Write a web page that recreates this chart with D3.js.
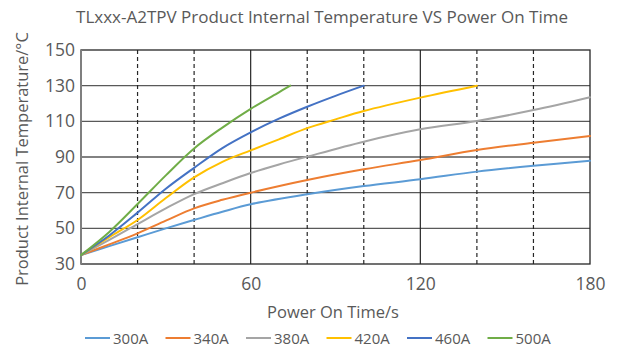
<!DOCTYPE html>
<html>
<head>
<meta charset="utf-8">
<script src="https://cdn.jsdelivr.net/npm/d3@7"></script>
<style>
  html, body { margin: 0; padding: 0; background: #fff; }
  svg { display: block; font-family: "Open Sans", "Noto Sans", sans-serif; }
</style>
</head>
<body>
<svg id="chart" width="625" height="349"></svg>
<script>
// time (s) and temperature (°C), one pair per current
const t300 = [0, 10, 20, 30, 40, 50, 60, 80, 100, 120, 140, 160, 180];
const v300 = [35, 40, 45, 50, 54.7, 59.3, 63.5, 69.1, 73.7, 77.5, 81.8, 85.1, 87.9];
const t340 = [0, 10, 20, 30, 40, 50, 60, 80, 100, 120, 140, 160, 180];
const v340 = [35, 41, 47.2, 54.3, 61.2, 66, 70, 77.1, 83.1, 88.3, 93.9, 98, 101.8];
const t380 = [0, 10, 20, 30, 40, 50, 60, 70, 80, 100, 120, 140, 160, 180];
const v380 = [35, 43.5, 52.4, 61.2, 69.2, 75.3, 81, 85.8, 90.2, 98.6, 105.5, 110.2, 116.3, 123.5];
const t420 = [0, 10, 20, 30, 40, 50, 60, 70, 80, 90, 100, 120, 140];
const v420 = [35, 45, 54.7, 67, 78.6, 87.3, 93.7, 99.9, 106.2, 111.1, 115.8, 123.3, 130];
const t460 = [0, 10, 20, 30, 40, 50, 60, 70, 80, 90, 100];
const v460 = [35, 46, 58.8, 72.2, 83.9, 95, 103.8, 111.5, 118.2, 124.3, 130];
const t500 = [0, 10, 20, 30, 40, 50, 60, 70, 74];
const v500 = [35, 48, 63.6, 79.7, 94.8, 106.5, 117, 126.3, 130];

const seriesNames = ["300A", "340A", "380A", "420A", "460A", "500A"];
const seriesTimes = [t300, t340, t380, t420, t460, t500];
const seriesValues = [v300, v340, v380, v420, v460, v500];
const colors = ["#5B9BD5", "#ED7D31", "#A5A5A5", "#FFC000", "#4472C4", "#70AD47"];

const xTicks = [0, 60, 120, 180];
const xGrid = [20, 40, 60, 80, 100, 120, 140, 160];
const yTicks = [30, 50, 70, 90, 110, 130, 150];

const svg = d3.select("#chart");
const m = { left: 81, right: 35, top: 50, bottom: 85 };
const W = 625, H = 349;

const x = d3.scaleLinear().domain([0, 180]).range([m.left, W - m.right]);
const y = d3.scaleLinear().domain([30, 150]).range([H - m.bottom, m.top]);

// horizontal gridlines
svg.append("g").selectAll("line").data(yTicks.slice(1, -1)).enter().append("line")
  .attr("x1", x(0)).attr("x2", x(180))
  .attr("y1", d => y(d)).attr("y2", d => y(d))
  .attr("stroke", "#595959").attr("stroke-width", 1.3);

// vertical gridlines: solid at axis labels, dashed between
svg.append("g").selectAll("line").data(xGrid).enter().append("line")
  .attr("x1", d => x(d)).attr("x2", d => x(d))
  .attr("y1", y(30)).attr("y2", y(150))
  .attr("stroke", "#262626").attr("stroke-width", 1.2)
  .attr("stroke-dasharray", d => xTicks.includes(d) ? null : "4,3");

// frame
svg.append("rect")
  .attr("x", x(0)).attr("y", y(150))
  .attr("width", x(180) - x(0)).attr("height", y(30) - y(150))
  .attr("fill", "none").attr("stroke", "#262626").attr("stroke-width", 1.3);
svg.append("line")
  .attr("x1", x(0)).attr("x2", x(0)).attr("y1", y(30)).attr("y2", y(150))
  .attr("stroke", "#7f7f7f").attr("stroke-width", 2);

// axes (labels only)
const yAxis = d3.axisLeft(y).tickValues(yTicks).tickSize(0).tickPadding(6);
svg.append("g").attr("transform", `translate(${x(0)},0)`).call(yAxis)
  .call(g => g.select(".domain").remove())
  .selectAll("text").attr("font-size", 17.5).attr("fill", "#595959")
  .attr("font-family", "'Open Sans', sans-serif");

const xAxis = d3.axisBottom(x).tickValues(xTicks).tickSize(0).tickPadding(14);
svg.append("g").attr("transform", `translate(0,${y(30)})`).call(xAxis)
  .call(g => g.select(".domain").remove())
  .selectAll("text").attr("font-size", 17.5).attr("fill", "#595959")
  .attr("font-family", "'Open Sans', sans-serif");

// series
const line = d3.line().x(d => x(d[0])).y(d => y(d[1])).curve(d3.curveCatmullRom.alpha(0.5));
seriesNames.forEach((name, i) => {
  const pts = d3.zip(seriesTimes[i], seriesValues[i]);
  svg.append("path").datum(pts)
    .attr("d", line)
    .attr("fill", "none")
    .attr("stroke", colors[i])
    .attr("stroke-width", 2)
    .attr("stroke-linejoin", "round")
    .attr("stroke-linecap", "round");
});

// titles
svg.append("text").attr("x", 322).attr("y", 23).attr("text-anchor", "middle")
  .attr("font-size", 17).attr("fill", "#595959")
  .text("TLxxx-A2TPV Product Internal Temperature VS Power On Time");

svg.append("text").attr("x", 333).attr("y", 318).attr("text-anchor", "middle")
  .attr("font-size", 16.5).attr("fill", "#595959")
  .text("Power On Time/s");

svg.append("text")
  .attr("transform", `translate(28,${(y(30) + y(150)) / 2 + 2}) rotate(-90)`)
  .attr("text-anchor", "middle")
  .attr("font-size", 16.5).attr("fill", "#595959")
  .text("Product Internal Temperature/°C");

// legend
const lg = svg.append("g").selectAll("g").data(seriesNames).enter().append("g")
  .attr("transform", (d, i) => `translate(${85 + i * 80.5},338)`);
lg.append("line").attr("x1", 0).attr("x2", 25).attr("y1", 0).attr("y2", 0)
  .attr("stroke", (d, i) => colors[i]).attr("stroke-width", 2);
lg.append("text").attr("x", 28).attr("y", 5.5)
  .attr("font-size", 15).attr("fill", "#595959")
  .text(d => d);
</script>
</body>
</html>
